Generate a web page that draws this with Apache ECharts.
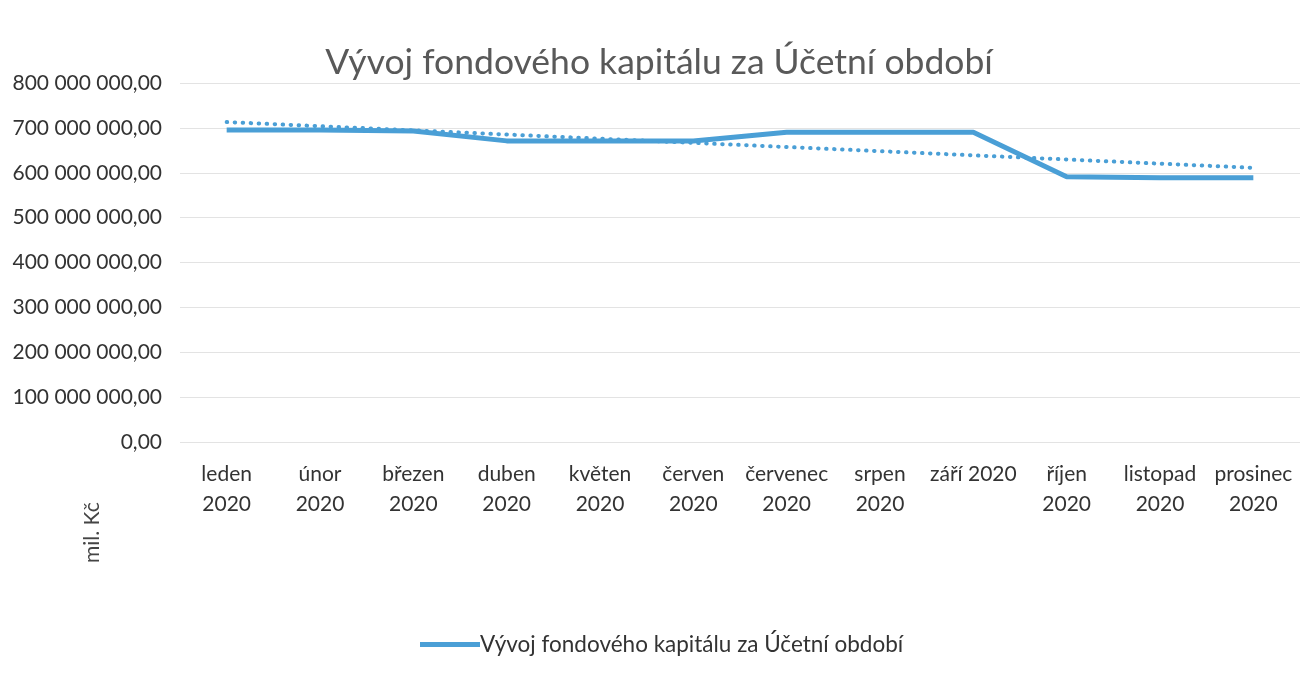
<!DOCTYPE html>
<html>
<head>
<meta charset="utf-8">
<script src="https://cdn.jsdelivr.net/npm/echarts@6/dist/echarts.min.js"></script>
<style>
  html, body { margin: 0; padding: 0; background: #fff; }
  #main { width: 1300px; height: 679px; }
</style>
</head>
<body>
<div id="main"></div>
<script>
// data
var months = ["leden\n2020", "únor\n2020", "březen\n2020", "duben\n2020", "květen\n2020", "červen\n2020",
  "červenec\n2020", "srpen\n2020", "září 2020", "říjen\n2020", "listopad\n2020", "prosinec\n2020"];
var capital = [695000000, 695000000, 693000000, 671000000, 671000000, 671000000,
  690000000, 690000000, 690000000, 591000000, 589000000, 589000000];
// linear trend, only its two end points are visible
var trend = [713000000, null, null, null, null, null, null, null, null, null, null, 611000000];
var yTicks = [0, 100000000, 200000000, 300000000, 400000000, 500000000, 600000000, 700000000, 800000000];

var seriesName = "Vývoj fondového kapitálu za Účetní období";
var blue = "#4a9fd6";
var font = "Lato, 'Open Sans', sans-serif";
var textColor = "#333333";

function fmt(v) {
  var s = Math.round(v).toString().replace(/\B(?=(\d{3})+(?!\d))/g, " ");
  return s + ",00";
}

var myChart = echarts.init(document.getElementById("main"));
var option = {
  animation: false,
  textStyle: { fontFamily: font },
  title: {
    text: seriesName,
    left: 654,
    textAlign: "center",
    top: 40,
    textStyle: { fontFamily: font, fontSize: 35.5, fontWeight: "normal", color: "#595959" }
  },
  grid: { left: 180, right: 0, top: 83, bottom: 237 },
  legend: {
    data: [{ name: seriesName, icon: "rect" }],
    bottom: 18,
    left: 415,
    itemWidth: 60,
    itemHeight: 5,
    itemGap: 0,
    textStyle: { fontFamily: font, fontSize: 22.5, color: textColor, padding: [0, 0, 0, -5] }
  },
  graphic: [{
    type: "text",
    x: 82,
    y: 563,
    rotation: Math.PI / 2,
    style: { text: "mil. Kč", fontFamily: font, fontSize: 21, fill: "#444444", align: "left", verticalAlign: "top" }
  }],
  xAxis: {
    type: "category",
    data: months,
    boundaryGap: true,
    axisLine: { show: false },
    axisTick: { show: false },
    axisLabel: { color: textColor, fontSize: 21, lineHeight: 30, margin: 17, interval: 0 }
  },
  yAxis: {
    type: "value",
    min: yTicks[0],
    max: yTicks[yTicks.length - 1],
    interval: yTicks[1] - yTicks[0],
    axisLine: { show: false },
    axisTick: { show: false },
    splitLine: { lineStyle: { color: "#e3e3e3", width: 1 } },
    axisLabel: { color: textColor, fontSize: 21, margin: 18, formatter: fmt }
  },
  series: [
    {
      name: seriesName,
      type: "line",
      data: capital,
      symbol: "none",
      lineStyle: { color: blue, width: 5 },
      itemStyle: { color: blue }
    },
    {
      name: "trend",
      type: "line",
      data: trend,
      connectNulls: true,
      symbol: "none",
      lineStyle: { color: blue, width: 4, type: [0.5, 7.5], cap: "round" },
      itemStyle: { color: blue }
    }
  ]
};
myChart.setOption(option);
</script>
</body>
</html>
